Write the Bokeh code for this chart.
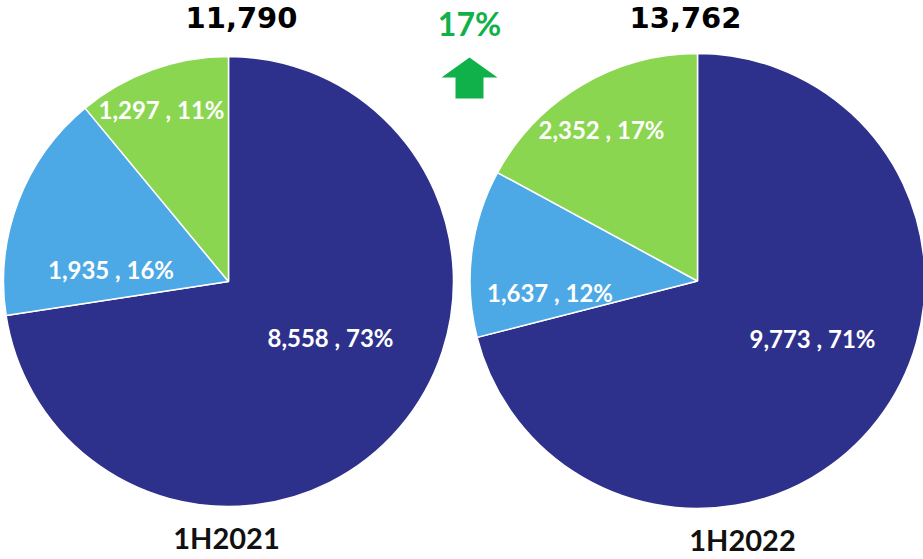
import math
from bokeh.plotting import figure
from bokeh.models import ColumnDataSource, Range1d
from bokeh.core.properties import value
from bokeh.embed import file_html
from bokeh.resources import INLINE

# ---------------- data ----------------
periods = ["1H2021", "1H2022"]
segments = ["Segment A", "Segment B", "Segment C"]
seg_a = [8558, 9773]
seg_b = [1935, 1637]
seg_c = [1297, 2352]
totals = [11790, 13762]

# ---------------- layout / style ----------------
W, H = 923, 559
colors = ["#2E318B", "#4DA9E6", "#8BD650"]
pie_centers = [(228, 281), (697, 280.5)]      # screen px
pie_radius = [225, 227.5]
BASE_SHIFT = 11   # renderer places alphabetic baseline lower than requested
# label baseline offsets from pie center (screen px), per pie, per segment
label_offsets = [
    [(102, 67), (-117.5, -1), (-67, -161)],
    [(115, 68.5), (-147.5, 22.5), (-96, -140.5)],
]
title_pos = [(241, 28), (685, 28)]
period_pos = [(226, 548), (742, 550)]
growth_pos = (469, 34)
arrow = dict(cx=469, tip=57, head_base=77, head_half=28, shaft_half=14, bottom=98)
GREEN = "#10B04A"
FONT = "Lato"
TITLE_FONT = "DejaVu Sans"


def sy(y):
    return H - y


def ty(y):
    return H - (y - BASE_SHIFT)


p = figure(width=W, height=H, output_backend="svg", toolbar_location=None,
           x_range=Range1d(0, W), y_range=Range1d(0, H),
           x_axis_type=None, y_axis_type=None, min_border=0,
           background_fill_color="white", border_fill_color="white")
p.outline_line_color = None
p.grid.visible = False

for i, per in enumerate(periods):
    vals = [seg_a[i], seg_b[i], seg_c[i]]
    tot = sum(vals)
    cx, cy = pie_centers[i]
    r = pie_radius[i]
    starts, ends = [], []
    cum = 0.0
    for v in vals:
        f0 = cum / tot
        cum += v
        f1 = cum / tot
        starts.append(math.pi / 2 - 2 * math.pi * f0)
        ends.append(math.pi / 2 - 2 * math.pi * f1)
    src = ColumnDataSource(dict(
        x=[cx] * 3, y=[sy(cy)] * 3, start=starts, end=ends, color=colors,
        seg=segments, val=vals))
    p.wedge(x="x", y="y", radius=r, start_angle="start", end_angle="end",
            direction="clock", fill_color="color", line_color="white",
            line_width=1.5, source=src)

    lx, ly, lt = [], [], []
    for k, v in enumerate(vals):
        dx, dy = label_offsets[i][k]
        lx.append(cx + dx)
        ly.append(ty(cy + dy))
        lt.append(f"{v:,} , {round(100 * v / tot)}%")
    p.text(x=lx, y=ly, text=lt, text_color="white", text_font=value(FONT),
           text_font_style="bold", text_font_size="24px",
           text_align="center", text_baseline="alphabetic")

    tx, tyy = title_pos[i]
    p.text(x=[tx], y=[ty(tyy)], text=[f"{totals[i]:,}"], text_color="black",
           text_font=value(TITLE_FONT), text_font_style="bold", text_font_size="29px",
           text_align="center", text_baseline="alphabetic")
    px, py = period_pos[i]
    p.text(x=[px], y=[ty(py)], text=[per], text_color="#111111",
           text_font=value(FONT), text_font_style="bold", text_font_size="29px",
           text_align="center", text_baseline="alphabetic")

growth = round(100 * (totals[1] / totals[0] - 1))
gx, gy = growth_pos
p.text(x=[gx], y=[ty(gy)], text=[f"{growth}%"], text_color=GREEN,
       text_font=value(FONT), text_font_style="bold", text_font_size="32px",
       text_align="center", text_baseline="alphabetic")

a = arrow
ax = [a["cx"], a["cx"] + a["head_half"], a["cx"] + a["shaft_half"], a["cx"] + a["shaft_half"],
      a["cx"] - a["shaft_half"], a["cx"] - a["shaft_half"], a["cx"] - a["head_half"]]
ay = [a["tip"], a["head_base"], a["head_base"], a["bottom"], a["bottom"], a["head_base"], a["head_base"]]
p.patch(x=ax, y=[sy(v) for v in ay], fill_color=GREEN, line_color=None)

open("out.html", "w").write(file_html(p, INLINE))
